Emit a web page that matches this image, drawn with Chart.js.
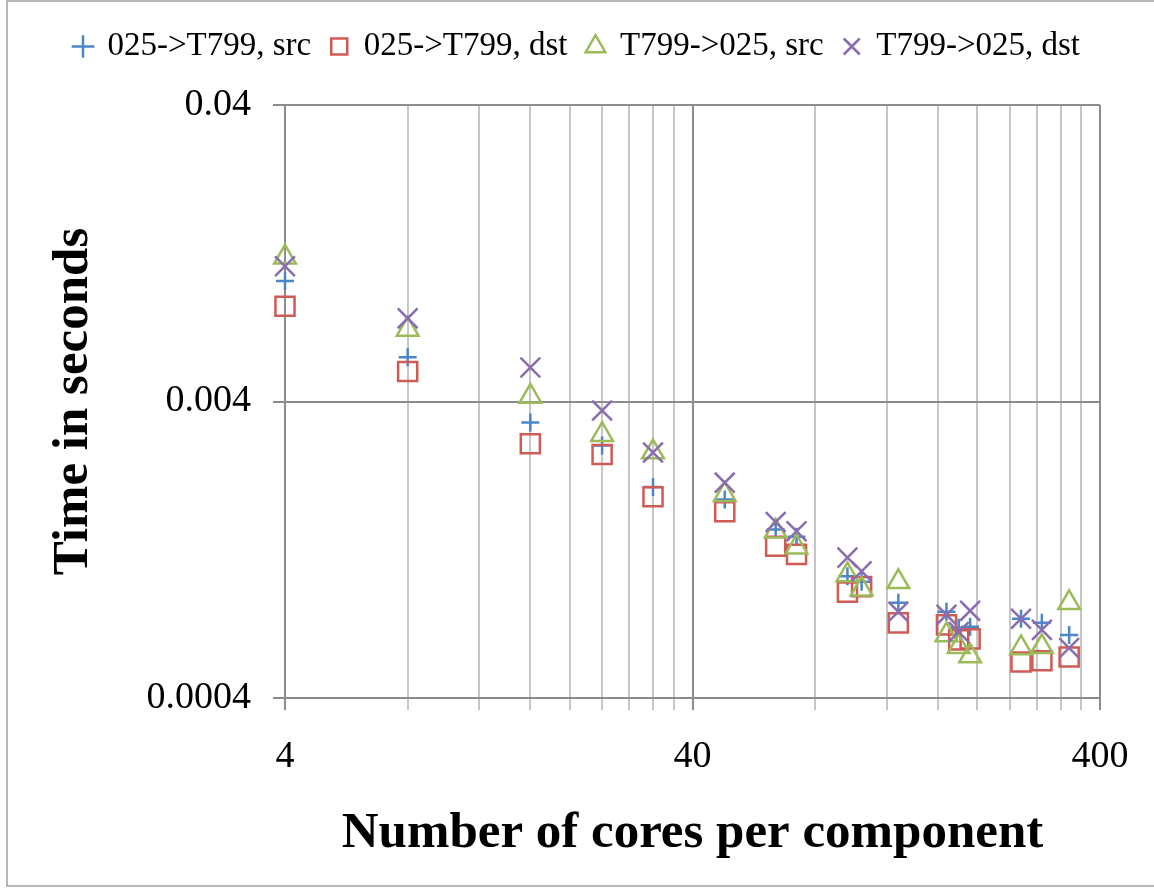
<!DOCTYPE html>
<html>
<head>
<meta charset="utf-8">
<title>Time per core count</title>
<script src="https://cdn.jsdelivr.net/npm/chart.js@4.4.1/dist/chart.umd.min.js"></script>
<style>
  body {
    margin: 0;
    background: #ffffff;
  }
  #timeChart {
    display: block;
  }
</style>
</head>
<body>
<canvas id="timeChart" width="1154" height="888"></canvas>
<script>
// cores per component (x) and timings in seconds (y)
const cores = [4, 8, 16, 24, 32, 48, 64, 72, 96, 104, 128, 168, 180, 192, 256, 288, 336];
const srcForward = [0.0102, 0.00564, 0.0034, 0.00284, 0.00206, 0.00187, 0.00148, 0.0014, 0.00103, 0.000986, 0.000838, 0.000781, 0.00069, 0.000695, 0.00074, 0.000717, 0.000653];
const dstForward = [0.00838, 0.00505, 0.00288, 0.00265, 0.00191, 0.0017, 0.0013, 0.00122, 0.00091, 0.00095, 0.000717, 0.000706, 0.000628, 0.000633, 0.000529, 0.000534, 0.00055];
const srcBackward = [0.01226, 0.007, 0.00416, 0.00309, 0.0027, 0.00194, 0.00146, 0.00129, 0.00104, 0.00093, 0.000986, 0.000653, 0.000595, 0.000554, 0.00059, 0.000595, 0.000838];
const dstBackward = [0.01143, 0.00763, 0.00521, 0.00373, 0.00269, 0.00213, 0.00157, 0.00146, 0.00119, 0.00107, 0.000781, 0.000763, 0.000668, 0.000787, 0.00074, 0.000679, 0.00059];

const seriesLabels = ["025->T799, src", "025->T799, dst", "T799->025, src", "T799->025, dst"];

// axis ticks
const xGrid = [4, 8, 12, 16, 20, 24, 28, 32, 36, 40, 80, 120, 160, 200, 240, 280, 320, 360, 400];
const xLabels = [4, 40, 400];
const yGrid = [0.0004, 0.004, 0.04];

const serif = "'Liberation Serif', 'DejaVu Serif', serif";
const majorGrid = "#8c8c8c";
const minorGrid = "#c6c6c6";

function toPoints(values) {
  const points = [];
  for (let i = 0; i < cores.length; i++) {
    points.push({ x: cores[i], y: values[i] });
  }
  return points;
}

function makeSeries(label, values, color, style, radius, order) {
  return {
    label: label,
    data: toPoints(values),
    borderColor: color,
    borderWidth: 2.5,
    backgroundColor: "rgba(0,0,0,0)",
    pointStyle: style,
    pointRadius: radius,
    pointHoverRadius: radius,
    pointBorderWidth: 2.5,
    showLine: false,
    clip: false,
    order: order,
  };
}

const pageFrame = {
  id: "pageFrame",
  beforeDraw(chart) {
    const ctx = chart.ctx;
    ctx.save();
    ctx.fillStyle = "#ffffff";
    ctx.fillRect(0, 0, chart.width, chart.height);
    ctx.strokeStyle = "#a0a0a0";
    ctx.lineWidth = 1.5;
    ctx.strokeRect(7, 1, chart.width + 10, chart.height - 3);
    ctx.restore();
  },
};

// leave a gap under the legend before the plot starts
const legendGap = {
  id: "legendGap",
  afterInit(chart) {
    const legend = chart.legend;
    const fit = legend.fit.bind(legend);
    legend.fit = function () {
      fit();
      legend.height += 32;
    };
  },
};

const data = {
  datasets: [
    makeSeries(seriesLabels[0], srcForward, "#4a86c8", "cross", 9, 3),
    makeSeries(seriesLabels[1], dstForward, "#cf5b55", "rect", 13.5, 2),
    makeSeries(seriesLabels[2], srcBackward, "#9bbb59", "triangle", 12.5, 1),
    makeSeries(seriesLabels[3], dstBackward, "#8a6cb0", "crossRot", 14, 0),
  ],
};

const config = {
  type: "scatter",
  data: data,
  plugins: [pageFrame, legendGap],
  options: {
    responsive: false,
    animation: false,
    events: [],
    layout: {
      padding: { left: 0, right: 54, top: 10, bottom: 0 },
    },
    plugins: {
      tooltip: { enabled: false },
      legend: {
        position: "top",
        align: "end",
        labels: {
          usePointStyle: true,
          boxWidth: 16,
          boxHeight: 16,
          padding: 20,
          color: "#000000",
          font: { family: serif, size: 33 },
          sort: (a, b) => a.datasetIndex - b.datasetIndex,
        },
      },
    },
    scales: {
      x: {
        type: "logarithmic",
        min: 4,
        max: 400,
        afterBuildTicks: (scale) => {
          scale.ticks = xGrid.map((v) => ({ value: v }));
        },
        afterFit: (scale) => {
          scale.height = 888 - 698;
        },
        ticks: {
          autoSkip: false,
          maxRotation: 0,
          padding: 24,
          color: "#000000",
          font: { family: serif, size: 38 },
          callback: (value) => (xLabels.includes(value) ? String(value) : ""),
        },
        grid: {
          color: (ctx) => (ctx.tick && xLabels.includes(ctx.tick.value) ? majorGrid : minorGrid),
          lineWidth: 2,
          tickLength: 12,
        },
        border: { color: majorGrid, width: 2 },
        title: {
          display: true,
          text: "Number of cores per component",
          color: "#000000",
          font: { family: serif, size: 51, weight: "bold" },
          padding: { top: 0, bottom: 24 },
        },
      },
      y: {
        type: "logarithmic",
        min: 0.0004,
        max: 0.04,
        afterBuildTicks: (scale) => {
          scale.ticks = yGrid.map((v) => ({ value: v }));
        },
        afterFit: (scale) => {
          scale.width = 285;
        },
        ticks: {
          autoSkip: false,
          padding: 22,
          color: "#000000",
          font: { family: serif, size: 38 },
          callback: (value) => String(value),
        },
        grid: {
          color: majorGrid,
          lineWidth: 2,
          tickLength: 12,
        },
        border: { color: majorGrid, width: 2 },
        title: {
          display: true,
          text: "Time in seconds",
          color: "#000000",
          font: { family: serif, size: 51, weight: "bold" },
          padding: { top: 43, bottom: 0 },
        },
      },
    },
  },
};

new Chart(document.getElementById("timeChart"), config);
</script>
</body>
</html>
